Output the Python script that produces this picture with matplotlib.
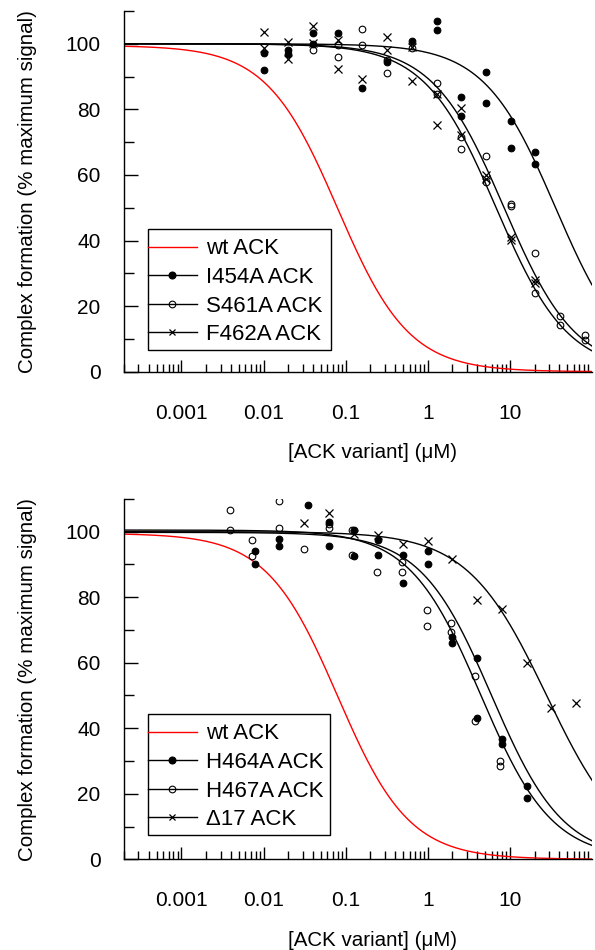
import numpy as np
import matplotlib
matplotlib.use("Agg")
import matplotlib.pyplot as plt
from matplotlib.lines import Line2D
from matplotlib.patches import Rectangle
from matplotlib.ticker import LogLocator, NullFormatter, FixedLocator

plt.rcParams['font.family'] = ['Liberation Sans', 'DejaVu Sans']

# ---- upper panel: I454A / S461A / F462A ----
i454a_conc = [0.01, 0.01, 0.02, 0.02, 0.04, 0.04, 0.08, 0.16, 0.32, 0.64,
              1.28, 1.28, 2.56, 2.56, 5.12, 5.12, 10.24, 10.24, 20.48, 20.48]
i454a_resp = [97.1, 92.0, 98.1, 96.8, 103.4, 100.0, 103.4, 86.4, 94.5, 100.9,
              107.0, 104.2, 83.7, 78.0, 91.5, 82.0, 76.5, 68.1, 67.1, 63.5]

s461a_conc = [0.04, 0.08, 0.08, 0.16, 0.16, 0.32, 0.32, 0.64, 1.28, 1.28,
              2.56, 2.56, 5.12, 5.12, 10.24, 10.24, 20.48, 20.48,
              40.96, 40.96, 81.92, 81.92]
s461a_resp = [98.1, 99.6, 96.0, 104.4, 99.6, 95.2, 91.2, 98.6, 88.1, 84.7,
              71.6, 67.9, 65.8, 57.9, 51.1, 50.5, 36.3, 23.9,
              17.0, 14.2, 11.2, 9.7]

f462a_conc = [0.01, 0.01, 0.02, 0.02, 0.04, 0.04, 0.08, 0.08, 0.16, 0.32, 0.32,
              0.64, 0.64, 1.28, 1.28, 2.56, 2.56, 5.12, 5.12, 10.24, 10.24,
              20.48, 20.48]
f462a_resp = [103.5, 98.6, 100.6, 95.3, 105.5, 100.3, 101.3, 92.2, 89.4, 102.0, 98.1,
              99.0, 88.6, 84.7, 75.2, 80.5, 72.2, 60.0, 58.9, 41.2, 40.2,
              28.0, 27.0]

# ---- lower panel: H464A / H467A / delta17 ----
h464a_conc = [0.0078, 0.0078, 0.0156, 0.0156, 0.035, 0.0625, 0.0625, 0.125, 0.125,
              0.25, 0.25, 0.5, 0.5, 1, 1, 2, 2, 4, 4, 8, 8, 16, 16]
h464a_resp = [94.1, 90.2, 97.9, 95.6, 108.0, 103.1, 95.5, 100.4, 92.5,
              97.6, 92.8, 92.8, 84.4, 94.1, 90.2, 67.9, 65.9, 61.5, 43.0,
              36.7, 35.1, 22.4, 18.8]

h467a_conc = [0.0039, 0.0039, 0.0072, 0.0072, 0.0156, 0.0156, 0.031, 0.0625, 0.0625,
              0.12, 0.12, 0.24, 0.48, 0.48, 0.98, 0.98, 1.9, 1.9, 3.8, 3.8, 7.6, 7.6]
h467a_resp = [106.7, 100.6, 97.6, 92.5, 109.3, 101.2, 94.6, 102.4, 101.2,
              100.6, 93.0, 87.7, 90.7, 87.7, 76.0, 71.1, 72.1, 69.4, 55.9, 42.2,
              30.1, 28.5]

d17_conc = [0.031, 0.0625, 0.125, 0.25, 0.5, 1, 2, 4, 8, 16, 32, 64]
d17_resp = [102.7, 105.8, 99.4, 99.1, 96.1, 97.1, 91.8, 79.3, 76.5, 59.8, 46.2, 47.7]

# fitted dose-response parameters: IC50 (uM), Hill slope, top (%)
wt_fit = [0.08, 1.0, 99.5]
i454a_fit = [36.0, 1.0, 100.0]
s461a_fit = [8.5, 1.0, 100.0]
f462a_fit = [6.8, 1.0, 100.0]
h464a_fit = [6.0, 1.0, 99.8]
h467a_fit = [4.4, 1.0, 100.5]
d17_fit = [28.0, 0.9, 100.0]

legend_top = ['wt ACK', 'I454A ACK', 'S461A ACK', 'F462A ACK']
legend_bottom = ['wt ACK', 'H464A ACK', 'H467A ACK', '\u039417 ACK']

x_ticks = [0.001, 0.01, 0.1, 1, 10]
x_tick_labels = ['0.001', '0.01', '0.1', '1', '10']


def hill(x, fit):
    ic50, slope, top = fit
    return top / (1 + (x / ic50) ** slope)


xs = np.logspace(np.log10(2e-4), 2, 500)

fig = plt.figure(figsize=(5.95, 9.5), dpi=100)
ax1 = fig.add_axes([0.2084, 0.6087, 0.7866, 0.3797])
ax2 = fig.add_axes([0.2084, 0.0955, 0.7866, 0.3793])

mk = dict(linestyle='none', color='k', markersize=4.8, markeredgewidth=0.8)
xmk = dict(mk, markersize=5.2, markeredgewidth=0.9)


def style_axes(ax):
    ax.set_xscale('log')
    ax.set_xlim(2e-4, 100)
    ax.set_ylim(0, 110)
    for s in ['top', 'right']:
        ax.spines[s].set_visible(False)
    for s in ['left', 'bottom']:
        ax.spines[s].set_linewidth(1.0)
    ax.xaxis.set_major_locator(FixedLocator(x_ticks))
    ax.set_xticklabels(x_tick_labels)
    ax.xaxis.set_minor_locator(LogLocator(base=10, subs=np.arange(2, 10), numticks=20))
    ax.xaxis.set_minor_formatter(NullFormatter())
    ax.set_yticks(np.arange(0, 101, 20))
    ax.set_yticks(np.arange(10, 111, 20), minor=True)
    ax.tick_params(axis='x', which='major', direction='in', length=9, width=1.0,
                   labelsize=15, pad=23)
    ax.tick_params(axis='x', which='minor', direction='in', length=5.5, width=1.0)
    ax.tick_params(axis='y', which='major', direction='in', length=10, width=1.0,
                   labelsize=15, pad=17)
    ax.tick_params(axis='y', which='minor', direction='in', length=7, width=1.0)
    ax.set_xlabel('[ACK variant] (\u03bcM)', fontsize=14.8)
    ax.set_ylabel('Complex formation (% maximum signal)', fontsize=14.8)
    ax.xaxis.set_label_coords(0.532, -0.198)
    ax.yaxis.set_label_coords(-0.186, 0.5)


def handles():
    return [Line2D([], [], color='red', lw=1.0),
            Line2D([], [], color='k', lw=1.0, marker='o', markersize=4.8),
            Line2D([], [], color='k', lw=1.0, marker='o', markersize=4.8,
                   markerfacecolor='none', markeredgewidth=0.8),
            Line2D([], [], color='k', lw=1.0, marker='x', markersize=5,
                   markeredgewidth=0.9)]


def add_legend(ax, labels, rows_top, box):
    # entries sit flush against the left edge of a plain square frame
    ax.legend(handles(), labels, loc='upper left', bbox_to_anchor=(0.0506, rows_top),
              borderaxespad=0, borderpad=0, fontsize=16, frameon=False,
              handlelength=2.2, handletextpad=0.42, labelspacing=0.34)
    ax.add_patch(Rectangle(box[:2], box[2], box[3], transform=ax.transAxes,
                           fill=False, edgecolor='k', lw=1.0, zorder=4))


# upper panel
ax1.plot(xs, hill(xs, wt_fit), color='red', lw=1.0)
ax1.plot(xs, hill(xs, i454a_fit), color='k', lw=1.0)
ax1.plot(xs, hill(xs, s461a_fit), color='k', lw=1.0)
ax1.plot(xs, hill(xs, f462a_fit), color='k', lw=1.0)
ax1.plot(i454a_conc, i454a_resp, marker='o', **mk)
ax1.plot(s461a_conc, s461a_resp, marker='o', markerfacecolor='none', **mk)
ax1.plot(f462a_conc, f462a_resp, marker='x', **xmk)
style_axes(ax1)
add_legend(ax1, legend_top, 0.3695, (0.0506, 0.0602, 0.3917, 0.3346))

# lower panel
ax2.plot(xs, hill(xs, wt_fit), color='red', lw=1.0)
ax2.plot(xs, hill(xs, h464a_fit), color='k', lw=1.0)
ax2.plot(xs, hill(xs, h467a_fit), color='k', lw=1.0)
ax2.plot(xs, hill(xs, d17_fit), color='k', lw=1.0)
ax2.plot(h464a_conc, h464a_resp, marker='o', **mk)
ax2.plot(h467a_conc, h467a_resp, marker='o', markerfacecolor='none', **mk)
ax2.plot(d17_conc, d17_resp, marker='x', **xmk)
style_axes(ax2)
add_legend(ax2, legend_bottom, 0.3771, (0.0506, 0.0674, 0.3896, 0.335))

fig.savefig('out.png', dpi=100)
